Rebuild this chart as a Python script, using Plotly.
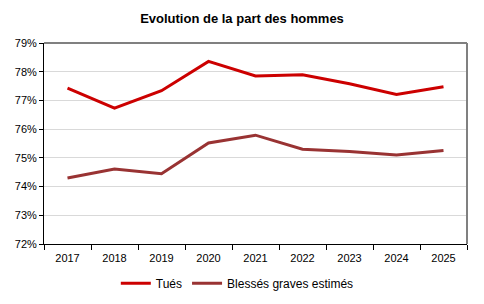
import plotly.graph_objects as go

# data
years = ["2017", "2018", "2019", "2020", "2021", "2022", "2023", "2024", "2025"]
tues = [77.43, 76.73, 77.34, 78.36, 77.85, 77.89, 77.58, 77.21, 77.48]
blesses = [74.30, 74.61, 74.45, 75.52, 75.79, 75.30, 75.22, 75.10, 75.26]
y_ticks = [72, 73, 74, 75, 76, 77, 78, 79]

fig = go.Figure()
fig.add_trace(go.Scatter(x=years, y=tues, mode="lines", name="Tués",
                         line=dict(color="#CC0000", width=3)))
fig.add_trace(go.Scatter(x=years, y=blesses, mode="lines", name="Blessés graves estimés",
                         line=dict(color="#993333", width=3)))

fig.update_layout(
    width=484, height=304,
    margin=dict(l=44, r=17, t=43, b=60, autoexpand=False),
    paper_bgcolor="white", plot_bgcolor="white",
    font=dict(family="Liberation Sans, Arial", size=11, color="black"),
    title=dict(text="<b>Evolution de la part des hommes</b>", x=0.5, xanchor="center",
               y=0.94, yanchor="middle", font=dict(size=13)),
    xaxis=dict(type="category", tickson="boundaries", ticks="outside", ticklen=5,
               tickcolor="black", showline=True, linecolor="black", linewidth=1,
               showgrid=False, range=[-0.5, 8.5], ticklabelstandoff=4),
    yaxis=dict(range=[72, 79], tickvals=y_ticks, ticktext=[f"{v}%" for v in y_ticks],
               ticks="outside", ticklen=4, tickcolor="black", showline=True,
               linecolor="black", linewidth=1, gridcolor="#D9D9D9", gridwidth=1,
               zeroline=False),
    legend=dict(orientation="h", x=0.457, xanchor="center", y=-0.195, yanchor="middle",
                font=dict(size=12), itemwidth=30),
    showlegend=True,
)
# top and right border in gray
fig.add_shape(type="line", xref="paper", yref="paper", x0=0, x1=1, y0=1, y1=1,
              line=dict(color="#808080", width=2))
fig.add_shape(type="line", xref="paper", yref="paper", x0=1, x1=1, y0=0, y1=1,
              line=dict(color="#808080", width=2))

# drop the default page margin so the figure sits at the window corner
fig.write_html("out.html", config={"displayModeBar": False},
               post_script="document.body.style.margin='0';")
